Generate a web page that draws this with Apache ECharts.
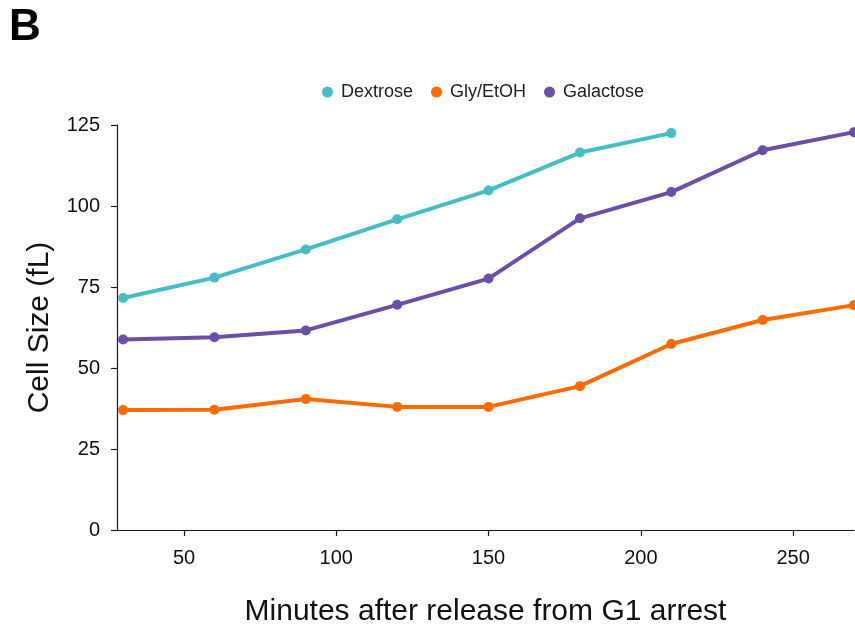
<!DOCTYPE html>
<html>
<head>
<meta charset="utf-8">
<script src="https://cdn.jsdelivr.net/npm/echarts@6/dist/echarts.min.js"></script>
<style>
  html, body { margin: 0; padding: 0; background: #fff; overflow: hidden; }
  #chart { width: 855px; height: 632px; }
</style>
</head>
<body>
<div id="chart"></div>
<script>
// Time points (minutes after release from G1 arrest)
const minutes = [30, 60, 90, 120, 150, 180, 210, 240, 270];

// Mean cell size (fL) per carbon source
const dextrose  = [71.6, 77.9, 86.6, 95.9, 104.8, 116.5, 122.5];
const glyEtoh   = [37.0, 37.1, 40.4, 38.0, 38.0, 44.4, 57.4, 64.8, 69.4];
const galactose = [58.8, 59.5, 61.6, 69.5, 77.6, 96.2, 104.3, 117.2, 122.8];

const xTicks = [50, 100, 150, 200, 250];

const seriesNames = ['Dextrose', 'Gly/EtOH', 'Galactose'];
const seriesColors = ['#45bdc6', '#ff6a00', '#6a4ea8'];

function pairs(values) {
  return values.map((v, i) => [minutes[i], v]);
}

const chart = echarts.init(document.getElementById('chart'), null, { renderer: 'canvas' });

const font = 'Liberation Sans, Arial, Helvetica, sans-serif';
const axisColor = '#1a1a1a';

chart.setOption({
  animation: false,
  textStyle: { fontFamily: font },
  graphic: [{
    type: 'text',
    left: 9,
    top: 6,
    style: { text: 'B', font: 'bold 44px ' + font, fill: '#000' }
  }],
  legend: {
    data: seriesNames,
    left: 317,
    top: 78,
    icon: 'circle',
    itemWidth: 11,
    itemHeight: 11,
    itemGap: 18,
    textStyle: { fontSize: 18, color: '#222', fontFamily: font, padding: [0, 0, 0, 3] }
  },
  grid: { left: 117, right: 1, top: 125, bottom: 94, containLabel: false },
  xAxis: {
    type: 'value',
    min: 28,
    max: 270,
    name: 'Minutes after release from G1 arrest',
    nameLocation: 'middle',
    nameGap: 67,
    nameTextStyle: { fontSize: 30, color: '#111', fontFamily: font },
    splitLine: { show: false },
    axisLine: { show: true, lineStyle: { color: axisColor, width: 1.2 } },
    axisTick: { show: true, length: 6, customValues: xTicks, lineStyle: { color: axisColor, width: 1.2 } },
    axisLabel: { customValues: xTicks, fontSize: 20, color: '#111', margin: 18 }
  },
  yAxis: {
    type: 'value',
    min: 0,
    max: 125,
    interval: 25,
    name: 'Cell Size (fL)',
    nameLocation: 'middle',
    nameGap: 62,
    nameRotate: 90,
    nameTextStyle: { fontSize: 30, color: '#111', fontFamily: font },
    splitLine: { show: false },
    axisLine: { show: true, lineStyle: { color: axisColor, width: 1.2 } },
    axisTick: { show: true, length: 6, lineStyle: { color: axisColor, width: 1.2 } },
    axisLabel: { fontSize: 20, color: '#111', margin: 17 }
  },
  series: [
    { name: seriesNames[0], data: pairs(dextrose) },
    { name: seriesNames[1], data: pairs(glyEtoh) },
    { name: seriesNames[2], data: pairs(galactose) }
  ].map((s, i) => Object.assign({
    type: 'line',
    symbol: 'circle',
    symbolSize: 10,
    clip: false,
    color: seriesColors[i],
    lineStyle: { width: 4, color: seriesColors[i] },
    itemStyle: { color: seriesColors[i] }
  }, s))
});
</script>
</body>
</html>
